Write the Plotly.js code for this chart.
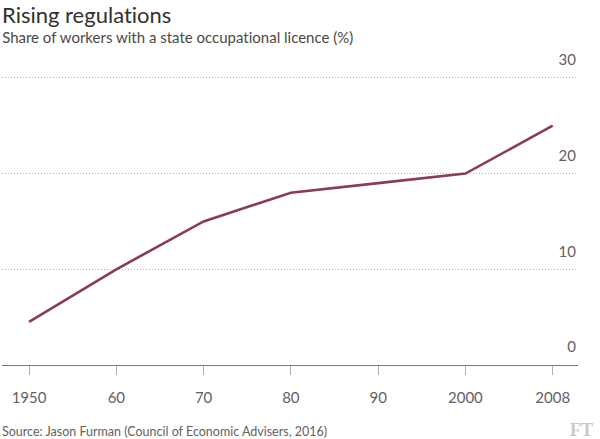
<!DOCTYPE html>
<html>
<head>
<meta charset="utf-8">
<script src="https://cdn.plot.ly/plotly-3.0.1.min.js"></script>
<style>
html,body{margin:0;padding:0;background:#fff;}
#chart{width:600px;height:439px;}
#chart text{font-variant-ligatures:none;font-feature-settings:"liga" 0;}
</style>
</head>
<body>
<div id="chart"></div>
<script>
// Data
const years = ['1950', '60', '70', '80', '90', '2000', '2008'];
const share = [4.5, 10, 15, 18, 19, 20, 25];
const yTicks = [0, 10, 20, 30];

const titleText = 'Rising regulations';
const subtitleText = 'Share of workers with a state occupational licence (%)';
const sourceText = 'Source: Jason Furman (Council of Economic Advisers, 2016)';

const FONT = 'Lato, "Open Sans", sans-serif';

const trace = {
  x: years,
  y: share,
  type: 'scatter',
  mode: 'lines',
  line: {color: '#8c3a5c', width: 2.6},
  hoverinfo: 'skip'
};

const TOP = 75;
const PLOT_H = 439 - TOP - 74;

const layout = {
  width: 600,
  height: 439,
  paper_bgcolor: '#ffffff',
  plot_bgcolor: '#ffffff',
  margin: {l: 2, r: 22, t: TOP, b: 74},
  showlegend: false,
  font: {family: FONT, color: '#66605c'},
  title: {
    text: titleText,
    font: {family: FONT, size: 22, color: '#33302e'},
    xref: 'container', yref: 'container',
    x: 2 / 600, xanchor: 'left',
    y: 1 - 15 / 439, yanchor: 'middle',
    pad: {t: 0, b: 0, l: 0, r: 0}
  },
  xaxis: {
    type: 'category',
    range: [-0.31, 6.29],
    showgrid: false,
    zeroline: false,
    showline: true,
    linecolor: '#807a76',
    linewidth: 1,
    ticks: 'outside',
    ticklen: 9,
    tickcolor: '#b5afab',
    tickwidth: 1,
    tickfont: {family: FONT, size: 15, color: '#66605c'},
    ticklabelstandoff: 10,
    fixedrange: true
  },
  yaxis: {
    side: 'right',
    range: [0, 30.3],
    tickvals: yTicks,
    ticktext: yTicks.map(String),
    showgrid: true,
    gridcolor: '#b3ada8',
    gridwidth: 1,
    griddash: '1px,2px',
    zeroline: false,
    showline: false,
    ticks: '',
    ticklabelposition: 'inside',
    ticklabeloverflow: 'allow',
    ticklabelshift: -18,
    ticklabelstandoff: -1,
    tickfont: {family: FONT, size: 15, color: '#66605c'},
    fixedrange: true
  },
  annotations: [
    {
      text: subtitleText,
      xref: 'paper', yref: 'paper',
      x: 0, xanchor: 'left',
      y: 1 + (TOP - 37) / PLOT_H, yanchor: 'middle',
      showarrow: false,
      xshift: -2,
      font: {family: FONT, size: 15, color: '#4d4845'}
    },
    {
      text: sourceText,
      xref: 'paper', yref: 'paper',
      x: 0, xanchor: 'left',
      y: -(431 - 365) / PLOT_H, yanchor: 'middle',
      showarrow: false,
      xshift: -2,
      font: {family: FONT, size: 12.5, color: '#66605c'}
    },
    {
      text: '<b>FT</b>',
      xref: 'paper', yref: 'paper',
      x: 1, xanchor: 'right',
      y: -(430 - 365) / PLOT_H, yanchor: 'middle',
      showarrow: false,
      xshift: 17,
      font: {family: '"Liberation Serif", "DejaVu Serif", serif', size: 18, color: '#cfc6bd'}
    }
  ]
};

Plotly.newPlot('chart', [trace], layout, {staticPlot: true, displayModeBar: false});
</script>
</body>
</html>
